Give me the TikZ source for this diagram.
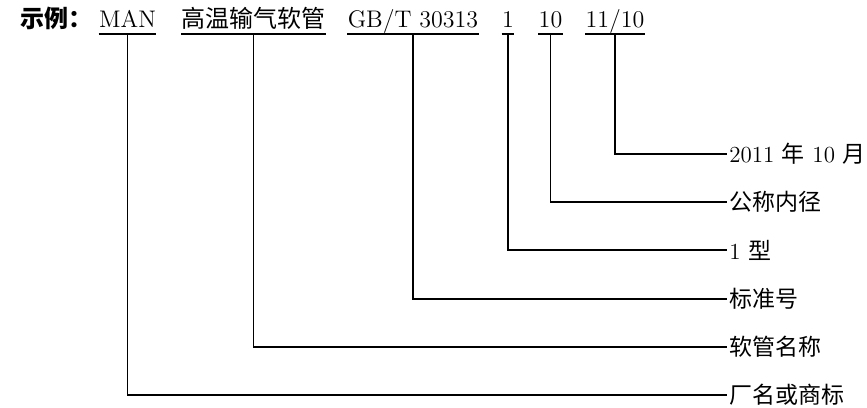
\documentclass[tikz,border=0pt]{standalone}
\usepackage{fontspec}
\newfontfamily\cjk{Noto Sans CJK SC}
\tikzset{
  topitem/.style={inner xsep=0pt, inner ysep=0pt, text depth=3pt, anchor=base,
    font=\fontsize{12}{14}\selectfont},
  lab/.style={inner xsep=1pt, inner ysep=0pt, anchor=west,
    font=\fontsize{11.5}{14}\selectfont},
  ln/.style={line width=0.6pt, black},
}
\begin{document}
\begin{tikzpicture}[x=0.5pt, y=-0.5pt]
\useasboundingbox (0,0) rectangle (867,407);
% heading
\node[topitem, anchor=base west, text depth=0pt] (ex) at (20,27.5) {\cjk\bfseries 示例：};
% top items
\node[topitem] (man) at (127.5,27.5) {MAN};
\node[topitem] (name) at (253.5,27.5) {\cjk 高温输气软管};
\node[topitem] (std) at (413,27.5) {GB/T 30313};
\node[topitem] (type) at (508,27.5) {1};
\node[topitem] (dia) at (550.5,27.5) {10};
\node[topitem] (date) at (615,27.5) {11/10};
% underlines
\foreach \n in {man,name,std,type,dia,date}
  \draw[ln] (\n.south west) -- (\n.south east);
% labels
\node[lab] (l1) at (727,154) {2011 {\cjk 年} 10 {\cjk 月}};
\node[lab] (l2) at (727,202) {\cjk 公称内径};
\node[lab] (l3) at (727,250) {1 {\cjk 型}};
\node[lab] (l4) at (727,299) {\cjk 标准号};
\node[lab] (l5) at (727,347) {\cjk 软管名称};
\node[lab] (l6) at (727,395) {\cjk 厂名或商标};
% connectors
\draw[ln] (date.south) |- (l1.west);
\draw[ln] (dia.south) |- (l2.west);
\draw[ln] (type.south) |- (l3.west);
\draw[ln] (std.south) |- (l4.west);
\draw[ln] (name.south) |- (l5.west);
\draw[ln] (man.south) |- (l6.west);
\end{tikzpicture}
\end{document}
